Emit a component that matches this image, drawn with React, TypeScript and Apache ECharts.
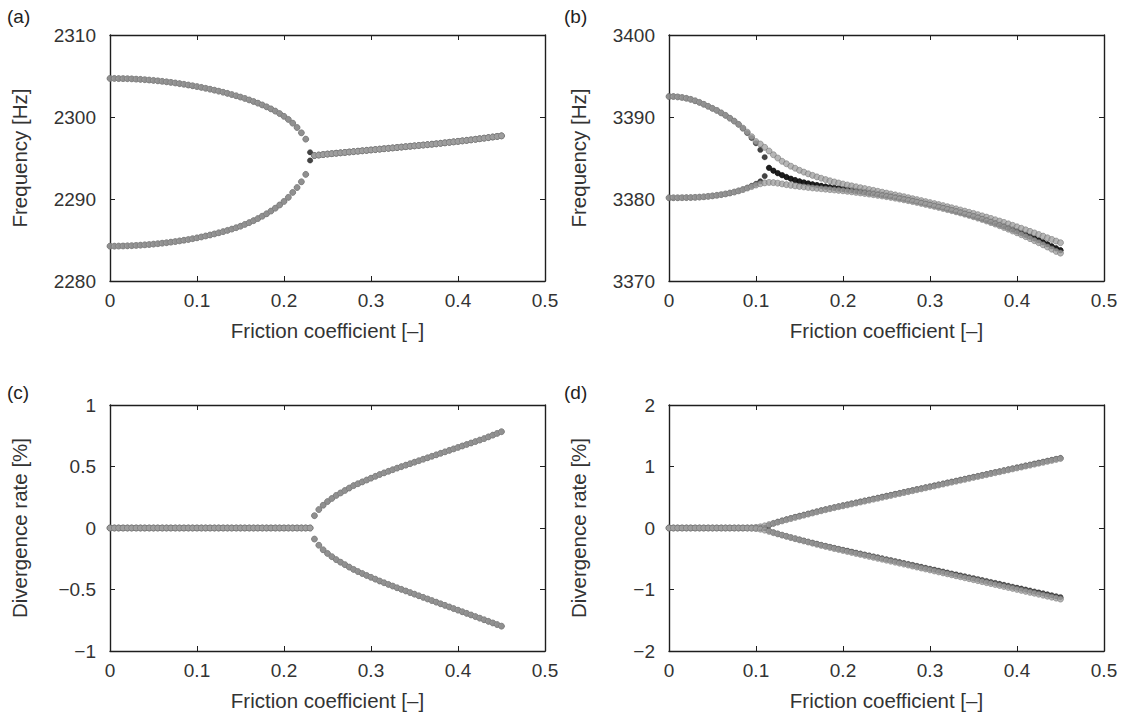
import { useEffect, useRef } from "react";
import * as echarts from "echarts";

// Friction coefficient sample points (x for all panels)
const mu = [
  0, 0.005, 0.01, 0.015, 0.02, 0.025, 0.03, 0.035, 0.04, 0.045,
  0.05, 0.055, 0.06, 0.065, 0.07, 0.075, 0.08, 0.085, 0.09, 0.095,
  0.1, 0.105, 0.11, 0.115, 0.12, 0.125, 0.13, 0.135, 0.14, 0.145,
  0.15, 0.155, 0.16, 0.165, 0.17, 0.175, 0.18, 0.185, 0.19, 0.195,
  0.2, 0.205, 0.21, 0.215, 0.22, 0.225, 0.23, 0.235, 0.24, 0.245,
  0.25, 0.255, 0.26, 0.265, 0.27, 0.275, 0.28, 0.285, 0.29, 0.295,
  0.3, 0.305, 0.31, 0.315, 0.32, 0.325, 0.33, 0.335, 0.34, 0.345,
  0.35, 0.355, 0.36, 0.365, 0.37, 0.375, 0.38, 0.385, 0.39, 0.395,
  0.4, 0.405, 0.41, 0.415, 0.42, 0.425, 0.43, 0.435, 0.44, 0.445,
  0.45,
];

const xTicks = [0, 0.1, 0.2, 0.3, 0.4, 0.5];
const panelLabels = ["(a)", "(b)", "(c)", "(d)"];
const xTitle = "Friction coefficient [–]";
const yTitles = ["Frequency [Hz]", "Frequency [Hz]", "Divergence rate [%]", "Divergence rate [%]"];
const yRanges = [
  [2280, 2310, 10],
  [3370, 3400, 10],
  [-1, 1, 0.5],
  [-2, 2, 1],
];

// ---- (a) frequency, mode pair 1 ----
// mu = 0 .. 0.225
const aUpperBranch = [
  2304.7, 2304.7, 2304.69, 2304.68, 2304.67, 2304.65, 2304.62, 2304.59, 2304.55, 2304.51,
  2304.46, 2304.41, 2304.35, 2304.29, 2304.22, 2304.15, 2304.07, 2303.99, 2303.9, 2303.81,
  2303.71, 2303.61, 2303.5, 2303.39, 2303.27, 2303.15, 2303.02, 2302.88, 2302.74, 2302.59,
  2302.43, 2302.26, 2302.08, 2301.89, 2301.69, 2301.47, 2301.24, 2300.99, 2300.72, 2300.42,
  2300.08, 2299.7, 2299.25, 2298.72, 2298.07, 2297.3,
];
const aLowerBranch = [
  2284.25, 2284.25, 2284.26, 2284.27, 2284.29, 2284.31, 2284.34, 2284.37, 2284.41, 2284.45,
  2284.5, 2284.55, 2284.61, 2284.67, 2284.74, 2284.81, 2284.89, 2284.97, 2285.06, 2285.16,
  2285.26, 2285.37, 2285.49, 2285.61, 2285.74, 2285.88, 2286.02, 2286.17, 2286.33, 2286.5,
  2286.68, 2286.9, 2287.12, 2287.36, 2287.62, 2287.9, 2288.2, 2288.53, 2288.88, 2289.27,
  2289.7, 2290.2, 2290.8, 2291.4, 2292.1, 2293.0,
];
// mu = 0.23 (black only)
const aBlackAtCritical = [2295.7, 2294.7];
// mu = 0.235 .. 0.45
const aCoalesced = [
  2295.3, 2295.36, 2295.42, 2295.48, 2295.53, 2295.58, 2295.63, 2295.68, 2295.73, 2295.78,
  2295.83, 2295.88, 2295.93, 2295.98, 2296.03, 2296.08, 2296.13, 2296.18, 2296.23, 2296.28,
  2296.33, 2296.38, 2296.43, 2296.48, 2296.53, 2296.58, 2296.63, 2296.68, 2296.73, 2296.79,
  2296.85, 2296.91, 2296.97, 2297.03, 2297.09, 2297.15, 2297.21, 2297.28, 2297.35, 2297.42,
  2297.49, 2297.56, 2297.63, 2297.7,
];

// ---- (b) frequency, mode pair 2 ----
const bGrayUpper = [
  3392.5, 3392.5, 3392.45, 3392.38, 3392.28, 3392.15, 3391.98, 3391.78, 3391.55, 3391.3,
  3391.05, 3390.8, 3390.5, 3390.2, 3389.85, 3389.5, 3389.1, 3388.65, 3388.15, 3387.6,
  3387.0, 3386.7, 3386.3, 3385.85, 3385.4, 3385.0, 3384.6, 3384.3, 3384.0, 3383.75,
  3383.5, 3383.28, 3383.07, 3382.88, 3382.7, 3382.53, 3382.37, 3382.22, 3382.08, 3381.95,
  3381.83, 3381.71, 3381.6, 3381.49, 3381.38, 3381.27, 3381.16, 3381.05, 3380.94, 3380.83,
  3380.72, 3380.61, 3380.5, 3380.39, 3380.28, 3380.16, 3380.04, 3379.92, 3379.8, 3379.68,
  3379.56, 3379.44, 3379.32, 3379.19, 3379.06, 3378.93, 3378.8, 3378.66, 3378.52, 3378.38,
  3378.24, 3378.09, 3377.94, 3377.79, 3377.63, 3377.47, 3377.31, 3377.14, 3376.97, 3376.79,
  3376.61, 3376.43, 3376.24, 3376.05, 3375.86, 3375.67, 3375.47, 3375.27, 3375.07, 3374.87,
  3374.67,
];
const bGrayLower = [
  3380.15, 3380.15, 3380.15, 3380.16, 3380.17, 3380.18, 3380.2, 3380.23, 3380.27, 3380.32,
  3380.38, 3380.45, 3380.53, 3380.62, 3380.73, 3380.85, 3380.99, 3381.15, 3381.33, 3381.52,
  3381.7, 3381.86, 3381.97, 3382.02, 3382.0, 3381.93, 3381.84, 3381.75, 3381.67, 3381.6,
  3381.53, 3381.47, 3381.41, 3381.35, 3381.3, 3381.25, 3381.2, 3381.15, 3381.1, 3381.05,
  3381.0, 3380.94, 3380.88, 3380.81, 3380.74, 3380.67, 3380.6, 3380.53, 3380.45, 3380.37,
  3380.29, 3380.2, 3380.1, 3380.0, 3379.9, 3379.8, 3379.69, 3379.58, 3379.46, 3379.34,
  3379.22, 3379.1, 3378.97, 3378.84, 3378.71, 3378.58, 3378.44, 3378.3, 3378.15, 3378.0,
  3377.84, 3377.67, 3377.5, 3377.32, 3377.13, 3376.94, 3376.74, 3376.53, 3376.32, 3376.1,
  3375.88, 3375.65, 3375.41, 3375.17, 3374.92, 3374.67, 3374.41, 3374.15, 3373.88, 3373.61,
  3373.4,
];
// black: mu = 0.08 .. 0.11
const bBlackUpperSplit = [3389.1, 3388.6, 3388.05, 3387.45, 3386.8, 3386.0, 3385.1];
const bBlackLowerSplit = [3381.0, 3381.17, 3381.37, 3381.6, 3381.85, 3382.15, 3382.8];
// black: mu = 0.115 .. 0.45
const bBlackCoalesced = [
  3383.8, 3383.45, 3383.15, 3382.9, 3382.68, 3382.48, 3382.3, 3382.15, 3382.02, 3381.9,
  3381.79, 3381.69, 3381.6, 3381.51, 3381.43, 3381.35, 3381.28, 3381.21,
  3381.14, 3381.07, 3381.0, 3380.92, 3380.84, 3380.76, 3380.68, 3380.59, 3380.5, 3380.41,
  3380.32, 3380.22, 3380.12, 3380.02, 3379.91, 3379.8, 3379.69, 3379.57, 3379.45, 3379.33,
  3379.2, 3379.07, 3378.94, 3378.8, 3378.66, 3378.52, 3378.38, 3378.23, 3378.08, 3377.92,
  3377.76, 3377.59, 3377.42, 3377.24, 3377.06, 3376.87, 3376.68, 3376.48, 3376.28, 3376.07,
  3375.86, 3375.64, 3375.42, 3375.19, 3374.96, 3374.72, 3374.48, 3374.23, 3373.98, 3373.75,
];

// ---- (c) divergence rate, mode pair 1 ----
// mu = 0 .. 0.23
const cStable = [
  0, 0, 0, 0, 0, 0, 0, 0, 0, 0,
  0, 0, 0, 0, 0, 0, 0, 0, 0, 0,
  0, 0, 0, 0, 0, 0, 0, 0, 0, 0,
  0, 0, 0, 0, 0, 0, 0, 0, 0, 0,
  0, 0, 0, 0, 0, 0, 0,
];
// mu = 0.235 .. 0.45
const cUpper = [
  0.1, 0.15, 0.185, 0.215, 0.24, 0.265, 0.285, 0.305, 0.325, 0.345,
  0.36, 0.375, 0.39, 0.405, 0.42, 0.435, 0.448, 0.461, 0.474, 0.487,
  0.499, 0.511, 0.523, 0.535, 0.547, 0.559, 0.571, 0.583, 0.595, 0.607,
  0.619, 0.631, 0.643, 0.655, 0.667, 0.679, 0.691, 0.703, 0.715, 0.727,
  0.741, 0.755, 0.769, 0.783,
];
const cLower = [
  -0.09, -0.14, -0.177, -0.207, -0.233, -0.257, -0.278, -0.298, -0.318, -0.337,
  -0.354, -0.37, -0.386, -0.401, -0.416, -0.431, -0.445, -0.459, -0.472, -0.486,
  -0.499, -0.512, -0.525, -0.538, -0.551, -0.564, -0.577, -0.59, -0.603, -0.616,
  -0.629, -0.642, -0.655, -0.668, -0.681, -0.694, -0.707, -0.72, -0.733, -0.746,
  -0.759, -0.772, -0.785, -0.798,
];

// ---- (d) divergence rate, mode pair 2 ----
const dGrayUpper = [
  0, 0, 0, 0, 0, 0, 0, 0, 0, 0,
  0, 0, 0, 0, 0, 0, 0, 0, 0.002, 0.005,
  0.01, 0.02, 0.035, 0.055, 0.075, 0.095, 0.115, 0.134, 0.153, 0.172,
  0.19, 0.208, 0.226, 0.244, 0.262, 0.28, 0.297, 0.314, 0.331, 0.346,
  0.36, 0.375, 0.391, 0.406, 0.422, 0.437, 0.452, 0.468, 0.483, 0.499,
  0.514, 0.529, 0.545, 0.56, 0.576, 0.591, 0.606, 0.622, 0.637, 0.653,
  0.668, 0.683, 0.699, 0.714, 0.73, 0.745, 0.76, 0.776, 0.791, 0.807,
  0.822, 0.837, 0.853, 0.868, 0.884, 0.899, 0.914, 0.93, 0.945, 0.961,
  0.976, 0.991, 1.007, 1.022, 1.038, 1.053, 1.068, 1.084, 1.099, 1.115,
  1.13,
];
const dGrayLower = [
  0, 0, 0, 0, 0, 0, 0, 0, 0, 0,
  0, 0, 0, 0, 0, 0, 0, 0, -0.002, -0.005,
  -0.01, -0.02, -0.035, -0.055, -0.076, -0.096, -0.116, -0.136, -0.155, -0.174,
  -0.193, -0.211, -0.229, -0.247, -0.265, -0.283, -0.3, -0.317, -0.334, -0.35,
  -0.366, -0.382, -0.398, -0.414, -0.429, -0.445, -0.461, -0.477, -0.493, -0.508,
  -0.524, -0.54, -0.556, -0.572, -0.587, -0.603, -0.619, -0.635, -0.651, -0.666,
  -0.682, -0.698, -0.714, -0.73, -0.745, -0.761, -0.777, -0.793, -0.809, -0.824,
  -0.84, -0.856, -0.872, -0.888, -0.903, -0.919, -0.935, -0.951, -0.967, -0.982,
  -0.998, -1.014, -1.03, -1.046, -1.061, -1.077, -1.093, -1.109, -1.125, -1.14,
  -1.156,
];
// black: mu = 0 .. 0.11
const dBlackStable = [
  0, 0, 0, 0, 0, 0, 0, 0, 0, 0,
  0, 0, 0, 0, 0, 0, 0, 0, 0, 0,
  0, 0, 0,
];
// black: mu = 0.115 .. 0.45
const dBlackUpper = [
  0.045, 0.075, 0.1, 0.121, 0.141, 0.16, 0.179, 0.197, 0.215, 0.233,
  0.251, 0.269, 0.287, 0.304, 0.321, 0.337, 0.353, 0.368,
  0.383, 0.399, 0.414, 0.43, 0.445, 0.46, 0.476, 0.491, 0.507, 0.522,
  0.537, 0.553, 0.568, 0.584, 0.599, 0.614, 0.63, 0.645, 0.661, 0.676,
  0.691, 0.707, 0.722, 0.738, 0.753, 0.768, 0.784, 0.799, 0.815, 0.83,
  0.845, 0.861, 0.876, 0.892, 0.907, 0.922, 0.938, 0.953, 0.969, 0.984,
  0.999, 1.015, 1.03, 1.046, 1.061, 1.076, 1.092, 1.107, 1.123, 1.138,
];
const dBlackLower = [
  -0.045, -0.073, -0.095, -0.115, -0.134, -0.153, -0.171, -0.189, -0.207, -0.224,
  -0.241, -0.258, -0.275, -0.292, -0.308, -0.324, -0.34, -0.355,
  -0.37, -0.386, -0.401, -0.417, -0.432, -0.447, -0.463, -0.478, -0.494, -0.509,
  -0.524, -0.54, -0.555, -0.571, -0.586, -0.601, -0.617, -0.632, -0.648, -0.663,
  -0.678, -0.694, -0.709, -0.725, -0.74, -0.755, -0.771, -0.786, -0.802, -0.817,
  -0.832, -0.848, -0.863, -0.879, -0.894, -0.909, -0.925, -0.94, -0.956, -0.971,
  -0.986, -1.002, -1.017, -1.033, -1.048, -1.063, -1.079, -1.094, -1.11, -1.125,
];

const FONT = "'Liberation Sans', Arial, Helvetica, sans-serif";
const TEXT = "#333";
const AXIS = "#1e1e1e";
const GRIDS = [
  { left: 110, top: 35, width: 435, height: 246 },
  { left: 669, top: 35, width: 435, height: 246 },
  { left: 110, top: 405, width: 435, height: 246 },
  { left: 669, top: 405, width: 435, height: 246 },
];
const LABEL_POS = [
  { x: 7, y: 7 },
  { x: 564, y: 7 },
  { x: 7, y: 383 },
  { x: 564, y: 383 },
];

function pair(start: number, ys: number[]): number[][] {
  return ys.map((v, i) => [mu[start + i], v]);
}

const minus = (v: number) => String(v).replace("-", "\u2212");

function buildOption() {
  const xAxis: any[] = [];
  const yAxis: any[] = [];
  GRIDS.forEach((_, g) => {
    const [ymin, ymax, yint] = yRanges[g];
    const line = { show: true, onZero: false, lineStyle: { color: AXIS, width: 1.4 } };
    const tick = { show: true, inside: true, length: 5, lineStyle: { color: AXIS, width: 1 } };
    xAxis.push({
      type: "value", gridIndex: g, min: xTicks[0], max: xTicks[xTicks.length - 1], interval: 0.1,
      position: "bottom", axisLine: line, axisTick: tick, splitLine: { show: false },
      axisLabel: { color: TEXT, fontSize: 19, fontFamily: FONT, margin: 10, formatter: (v: number) => minus(v) },
      name: xTitle, nameLocation: "middle", nameGap: 39,
      nameTextStyle: { color: TEXT, fontSize: 20.5, fontFamily: FONT },
    });
    xAxis.push({
      type: "value", gridIndex: g, min: xTicks[0], max: xTicks[xTicks.length - 1], interval: 0.1,
      position: "top", axisLine: line, axisTick: tick, splitLine: { show: false },
      axisLabel: { show: false },
    });
    yAxis.push({
      type: "value", gridIndex: g, min: ymin, max: ymax, interval: yint,
      position: "left", axisLine: line, axisTick: tick, splitLine: { show: false },
      axisLabel: { color: TEXT, fontSize: 19, fontFamily: FONT, margin: 14, formatter: (v: number) => minus(v) },
      name: yTitles[g], nameLocation: "middle", nameGap: 80,
      nameTextStyle: { color: TEXT, fontSize: 20.5, fontFamily: FONT },
    });
    yAxis.push({
      type: "value", gridIndex: g, min: ymin, max: ymax, interval: yint,
      position: "right", axisLine: line, axisTick: tick, splitLine: { show: false },
      axisLabel: { show: false },
    });
  });

  const gray = (g: number, data: number[][]) => ({
    type: "scatter", xAxisIndex: 2 * g, yAxisIndex: 2 * g, data, symbolSize: 6,
    itemStyle: { color: "#a4a4a4", borderColor: "#727272", borderWidth: 0.7 },
    silent: true,
  });
  const black = (g: number, data: number[][]) => ({
    type: "scatter", xAxisIndex: 2 * g, yAxisIndex: 2 * g, data, symbolSize: 5.5,
    itemStyle: { color: "#151515", borderColor: "#000", borderWidth: 0.3 },
    silent: true,
  });

  const idx23 = mu.indexOf(0.23);
  const idx235 = mu.indexOf(0.235);
  const idx08 = mu.indexOf(0.08);
  const idx115 = mu.indexOf(0.115);

  const cUp = [...pair(0, cStable), ...pair(idx235, cUpper)];
  const cLo = [...pair(0, cStable), ...pair(idx235, cLower)];

  const series: any[] = [
    // (a)
    black(0, [...pair(0, aUpperBranch), [mu[idx23], aBlackAtCritical[0]], ...pair(idx235, aCoalesced)]),
    black(0, [...pair(0, aLowerBranch), [mu[idx23], aBlackAtCritical[1]], ...pair(idx235, aCoalesced)]),
    gray(0, [...pair(0, aUpperBranch), ...pair(idx235, aCoalesced)]),
    gray(0, [...pair(0, aLowerBranch), ...pair(idx235, aCoalesced)]),
    // (b)
    black(1, [...pair(0, bGrayUpper.slice(0, idx08)), ...pair(idx08, bBlackUpperSplit), ...pair(idx115, bBlackCoalesced)]),
    black(1, [...pair(0, bGrayLower.slice(0, idx08)), ...pair(idx08, bBlackLowerSplit), ...pair(idx115, bBlackCoalesced)]),
    gray(1, pair(0, bGrayUpper)),
    gray(1, pair(0, bGrayLower)),
    // (c)
    black(2, cUp),
    black(2, cLo),
    gray(2, cUp),
    gray(2, cLo),
    // (d)
    black(3, [...pair(0, dBlackStable), ...pair(idx115, dBlackUpper)]),
    black(3, [...pair(0, dBlackStable), ...pair(idx115, dBlackLower)]),
    gray(3, pair(0, dGrayUpper)),
    gray(3, pair(0, dGrayLower)),
  ];

  return {
    animation: false,
    backgroundColor: "#ffffff",
    grid: GRIDS.map((g) => ({ ...g, containLabel: false })),
    xAxis,
    yAxis,
    series,
    graphic: panelLabels.map((t, i) => ({
      type: "text",
      left: LABEL_POS[i].x,
      top: LABEL_POS[i].y,
      style: { text: t, fill: "#222", fontSize: 19, fontFamily: FONT },
    })),
  };
}

export default function App() {
  const ref = useRef<HTMLDivElement>(null);
  useEffect(() => {
    if (!ref.current) return;
    const chart = echarts.init(ref.current, undefined, { renderer: "svg" });
    chart.setOption(buildOption() as any);
    return () => chart.dispose();
  }, []);
  return (
    <div
      ref={ref}
      style={{ position: "fixed", left: 0, top: 0, width: 1130, height: 721, background: "#fff" }}
    />
  );
}
